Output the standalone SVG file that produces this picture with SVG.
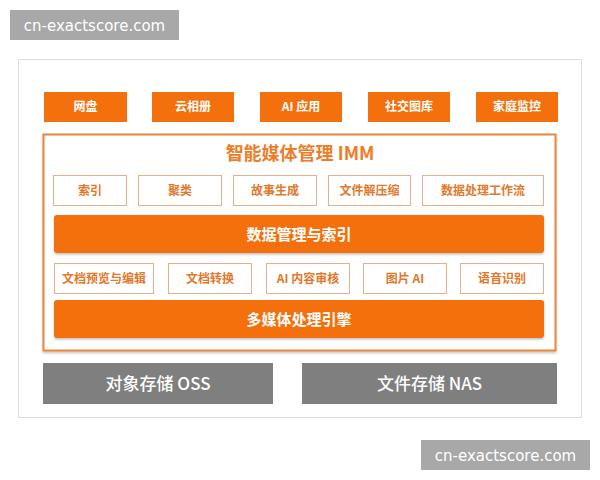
<svg xmlns="http://www.w3.org/2000/svg" width="600" height="480" viewBox="0 0 600 480">
<defs>
<style>
.top{fill:#f4700c;}
.toptx{fill:#fff;font-family:"Noto Sans CJK SC","Noto Sans",sans-serif;font-size:12px;font-weight:bold;text-anchor:middle;}
.out{fill:#fff;stroke:#e6b08c;stroke-width:1;}
.outtx{fill:#e2782a;font-family:"Noto Sans CJK SC","Noto Sans",sans-serif;font-size:12px;font-weight:bold;text-anchor:middle;}
.bar{fill:#f4700c;filter:url(#sh);}
.bartx{fill:#fff;font-family:"Noto Sans CJK SC","Noto Sans",sans-serif;font-size:15px;font-weight:bold;text-anchor:middle;}
.gray{fill:#7f7f7f;}
.graytx{fill:#fff;font-family:"Noto Sans CJK SC","Noto Sans",sans-serif;font-size:17px;font-weight:500;text-anchor:middle;}
.wm{fill:#a8a8a8;}
.wmtx{fill:#fff;font-family:"DejaVu Sans","Liberation Sans",sans-serif;font-size:15px;text-anchor:middle;}
</style>
<filter id="sh" x="-5%" y="-20%" width="110%" height="150%">
<feDropShadow dx="0" dy="1.5" stdDeviation="1.2" flood-color="#000" flood-opacity="0.25"/>
</filter>
</defs>
<rect width="600" height="480" fill="#fff"/>
<g id="watermark-top"><rect class="wm" x="10" y="10" width="169" height="30"/><text class="wmtx" x="94.5" y="31">cn-exactscore.com</text></g>
<g id="card"><rect x="18.5" y="59.5" width="563" height="358" fill="#fff" stroke="#dcdcdc" stroke-width="1"/></g>
<g id="top-netdisk"><rect class="top" x="44" y="92" width="83" height="30"/><text class="toptx" x="85.5" y="111">网盘</text></g>
<g id="top-album"><rect class="top" x="152" y="92" width="82" height="30"/><text class="toptx" x="193" y="111">云相册</text></g>
<g id="top-ai"><rect class="top" x="260" y="92" width="82" height="30"/><text class="toptx" x="301" y="111">AI 应用</text></g>
<g id="top-social"><rect class="top" x="368" y="92" width="82" height="30"/><text class="toptx" x="409" y="111">社交图库</text></g>
<g id="top-home"><rect class="top" x="476" y="92" width="82" height="30"/><text class="toptx" x="517" y="111">家庭监控</text></g>
<g id="imm"><rect x="43.5" y="134.5" width="512" height="216" fill="#fff" stroke="#e8873a" stroke-width="2" filter="url(#sh)"/>
<text x="300" y="159.5" fill="#ee7d28" font-family="Noto Sans CJK SC, Noto Sans, sans-serif" font-size="18" font-weight="bold" text-anchor="middle">智能媒体管理 IMM</text></g>
<g id="r1-index"><rect class="out" x="53.5" y="175.5" width="73" height="30"/><text class="outtx" x="90" y="195">索引</text></g>
<g id="r1-cluster"><rect class="out" x="138.5" y="175.5" width="83" height="30"/><text class="outtx" x="180" y="195">聚类</text></g>
<g id="r1-story"><rect class="out" x="233.5" y="175.5" width="83" height="30"/><text class="outtx" x="275" y="195">故事生成</text></g>
<g id="r1-unzip"><rect class="out" x="328.5" y="175.5" width="82" height="30"/><text class="outtx" x="369.5" y="195">文件解压缩</text></g>
<g id="r1-workflow"><rect class="out" x="422.5" y="175.5" width="121" height="30"/><text class="outtx" x="483" y="195">数据处理工作流</text></g>
<g id="bar-data"><rect class="bar" x="54" y="215" width="490" height="38" rx="3"/><text class="bartx" x="299" y="239.5">数据管理与索引</text></g>
<g id="r2-preview"><rect class="out" x="54.5" y="263.5" width="99" height="30"/><text class="outtx" x="104" y="283">文档预览与编辑</text></g>
<g id="r2-convert"><rect class="out" x="168.5" y="263.5" width="83" height="30"/><text class="outtx" x="210" y="283">文档转换</text></g>
<g id="r2-audit"><rect class="out" x="266.5" y="263.5" width="83" height="30"/><text class="outtx" x="308" y="283">AI 内容审核</text></g>
<g id="r2-image"><rect class="out" x="363.5" y="263.5" width="83" height="30"/><text class="outtx" x="405" y="283">图片 AI</text></g>
<g id="r2-speech"><rect class="out" x="460.5" y="263.5" width="83" height="30"/><text class="outtx" x="502" y="283">语音识别</text></g>
<g id="bar-engine"><rect class="bar" x="54" y="300" width="490" height="38" rx="3"/><text class="bartx" x="299" y="324.5">多媒体处理引擎</text></g>
<g id="oss"><rect class="gray" x="43" y="363" width="230" height="41"/><text class="graytx" x="158" y="389.5">对象存储 OSS</text></g>
<g id="nas"><rect class="gray" x="302" y="363" width="255" height="41"/><text class="graytx" x="429.5" y="389.5">文件存储 NAS</text></g>
<g id="watermark-bottom"><rect class="wm" x="421" y="440" width="169" height="30"/><text class="wmtx" x="505.5" y="461">cn-exactscore.com</text></g>
<g id="connectors"></g>
</svg>
